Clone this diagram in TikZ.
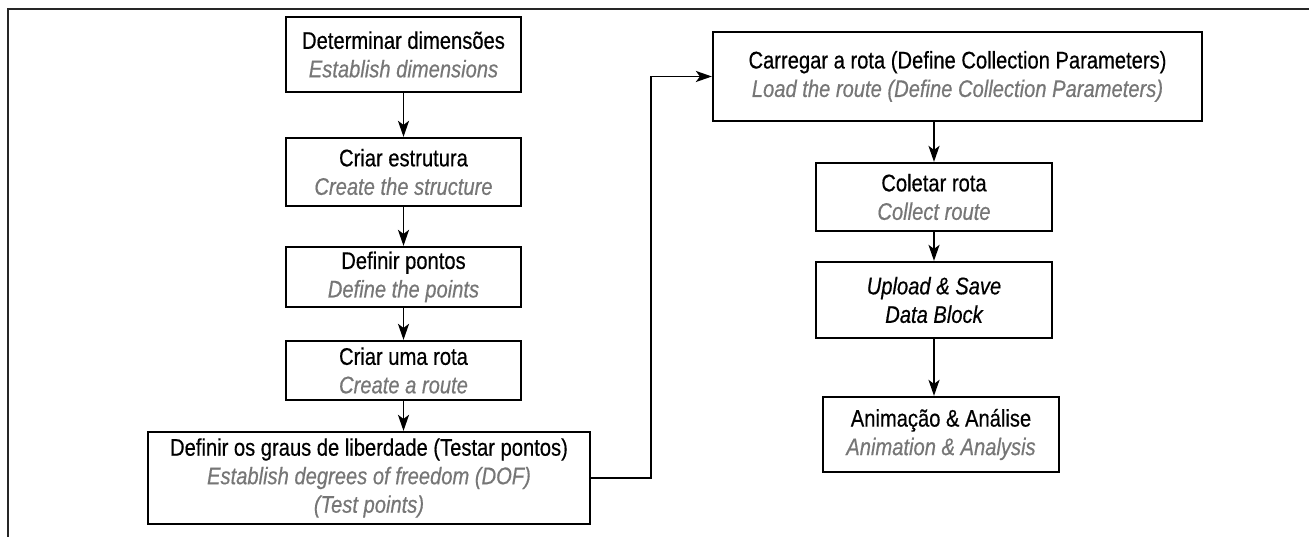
\documentclass[tikz,border=0pt]{standalone}
\usepackage{fontspec}
\setmainfont{Liberation Sans}[FakeStretch=0.84, FakeBold=0.5]
\usetikzlibrary{arrows.meta}

\definecolor{engc}{RGB}{118,118,118}
\newcommand{\eng}[1]{{\color{engc}\itshape #1}}

\begin{document}
\begin{tikzpicture}[x=1pt, y=1pt,
    stepbox/.style={draw, line width=2.2pt, align=center, inner sep=0pt,
        minimum width=235pt, font=\fontsize{24}{28.5}\selectfont},
    arr/.style={-{Stealth[length=16pt, width=11pt, inset=4pt]}, line width=1.9pt}]
    \useasboundingbox (0, 0) rectangle (1309, 537);

    % Frame
    \draw[line width=2.4pt, black!85] (8, 0) -- (8, 528) -- (1309, 528);

    % Left column
    \node[stepbox, minimum height=75pt] (dim) at (403.5, 482.5)
        {Determinar dimensões\\ \eng{Establish dimensions}};
    \node[stepbox, minimum height=68pt] (est) at (403.5, 365)
        {Criar estrutura\\ \eng{Create the structure}};
    \node[stepbox, minimum height=60pt] (pts) at (403.5, 260)
        {Definir pontos\\ \eng{Define the points}};
    \node[stepbox, minimum height=59pt] (rota) at (403.5, 166.5)
        {Criar uma rota\\ \eng{Create a route}};
    \node[stepbox, minimum width=442pt, minimum height=92pt] (dof) at (369, 59)
        {Definir os graus de liberdade (Testar pontos)\\
         \eng{Establish degrees of freedom (DOF)}\\ \eng{(Test points)}};

    \draw[arr] (dim) -- (est);
    \draw[arr] (est) -- (pts);
    \draw[arr] (pts) -- (rota);
    \draw[arr] (rota.south) -- (rota.south |- dof.north);

    % Right column
    \node[stepbox, minimum width=489pt, minimum height=89pt] (load) at (957.5, 460.5)
        {Carregar a rota (Define Collection Parameters)\\
         \eng{Load the route (Define Collection Parameters)}};
    \node[stepbox, minimum width=236pt, minimum height=68pt] (col) at (934, 340)
        {Coletar rota\\ \eng{Collect route}};
    \node[stepbox, minimum width=236pt, minimum height=76pt] (up) at (934, 237)
        {\itshape Upload \& Save\\ \itshape Data Block};
    \node[stepbox, minimum width=236pt, minimum height=75pt] (anim) at (941, 102.5)
        {Animação \& Análise\\ \eng{Animation \& Analysis}};

    \draw[arr] (col.north |- load.south) -- (col.north);
    \draw[arr] (col) -- (up);
    \draw[arr] (up.south) -- (up.south |- anim.north);

    % Link between columns
    \draw[arr] (dof.east) -- ++(60, 0) |- (load.west);
\end{tikzpicture}
\end{document}
